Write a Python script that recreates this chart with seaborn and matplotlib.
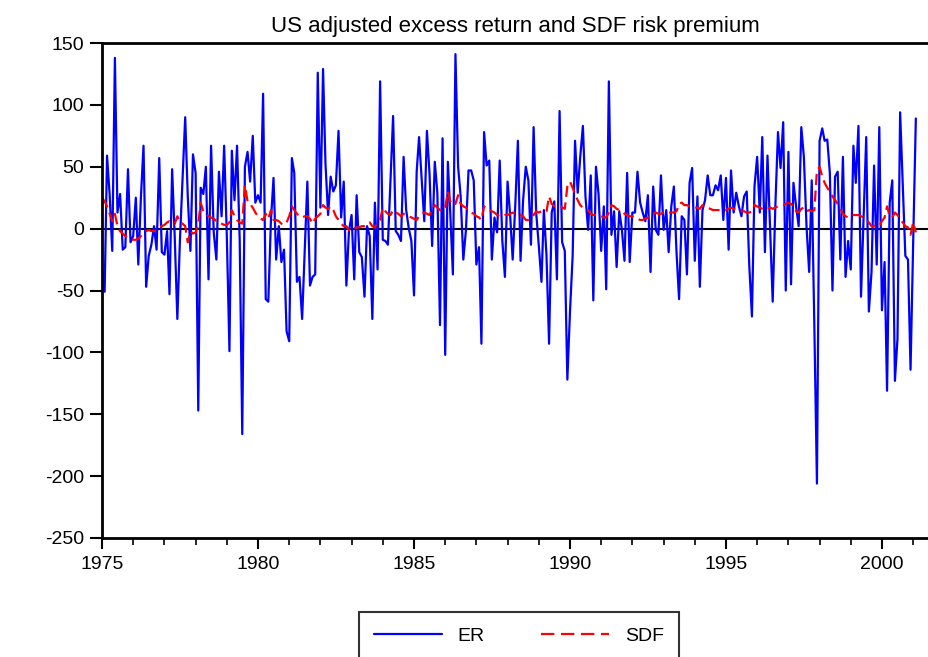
import pandas as pd
import matplotlib
matplotlib.use("Agg")
import matplotlib.pyplot as plt
import matplotlib.dates as mdates
from matplotlib.lines import Line2D
import seaborn as sns

# monthly values, 1975:01 onwards
er = [
    -33, -51, 59, 27, -18, 138, 13, 28, -17, -15,
    48, -11, -6, 25, -29, 26, 67, -47, -22, -13,
    2, -17, 57, -19, -21, -2, -53, 48, -6, -73,
    -10, 40, 90, 26, -18, 60, 45, -147, 33, 28,
    50, -41, 67, -3, -25, 46, 10, 67, -5, -99,
    63, 23, 67, -9, -166, 50, 62, 38, 75, 21,
    27, 21, 109, -57, -59, 7, 41, -25, 2, -27,
    -17, -83, -91, 57, 45, -43, -39, -73, -18, 38,
    -46, -39, -37, 126, 17, 129, 53, 11, 42, 30,
    35, 79, 9, 38, -46, -2, 11, -41, 27, -19,
    -23, -55, 2, -6, -73, 21, -33, 119, -9, -10,
    -13, 40, 91, -2, -5, -10, 58, 15, 0, -10,
    -54, 46, 74, 40, 6, 79, 45, -14, 54, 29,
    -78, 73, -102, 54, 13, -37, 141, 50, 26, -25,
    -1, 47, 47, 39, -29, -15, -93, 78, 51, 55,
    -25, 9, -3, 55, -10, -39, 38, 10, -25, 20,
    71, -26, 23, 50, 39, -13, 82, 13, -14, -43,
    15, -22, -93, 13, 22, -41, 95, -11, -18, -122,
    -67, -22, 71, 29, 58, 83, 26, -1, 43, -58,
    50, 28, -18, 18, -49, 119, -5, 14, -31, 14,
    -1, -26, 45, -27, 13, 13, 46, 21, 13, 6,
    27, -35, 34, -1, -5, 43, -1, 15, -19, 18,
    34, -19, -57, 10, 7, -37, 37, 49, -26, 26,
    -47, 15, 23, 43, 27, 27, 35, 31, 43, 7,
    41, -17, 47, 13, 29, 18, 10, 26, 30, -30,
    -71, 34, 58, 13, 74, -19, 59, -1, -59, 18,
    78, 49, 86, -50, 62, -45, 37, 18, 2, 82,
    58, 2, -35, 39, -80, -206, 71, 81, 71, 72,
    45, -50, 42, 46, -25, 58, -39, -10, -33, 67,
    37, 83, -55, 10, 74, -67, -35, 51, -29, 82,
    -66, -27, -131, 21, 39, -123, -89, 94, 34, -22,
    -25, -114, -10, 89,
]

sdf = [
    25, 22, 18, 12, 6, 12, 2, -2, -4, -6,
    -7, -8, -9, -9, -8, -6, -4, -2, -1, -2,
    -2, -1, 1, 2, 3, 5, 6, 5, 4, 10,
    5, 4, 2, -11, -2, -4, -3, 3, 21, 14,
    12, 10, 9, 8, 6, 5, 4, 3, 3, 5,
    15, 10, 7, 5, 4, 35, 22, 20, 17, 13,
    10, 8, 7, 12, 8, 15, 7, 7, 6, 4,
    3, 5, 10, 18, 15, 12, 10, 9, 10, 10,
    8, 4, 8, 10, 12, 19, 17, 16, 18, 15,
    10, 7, 4, 2, 2, -1, -2, 0, 1, 1,
    2, 2, 3, 5, 2, 1, 5, 7, 17, 14,
    12, 11, 15, 13, 12, 10, 12, 11, 10, 9,
    8, 7, 10, 12, 13, 12, 11, 15, 19, 17,
    15, 14, 17, 30, 22, 19, 20, 27, 20, 18,
    17, 14, 13, 12, 10, 9, 7, 18, 16, 15,
    14, 13, 11, 10, 10, 11, 11, 12, 13, 12,
    11, 11, 10, 7, 7, 9, 11, 14, 13, 14,
    13, 14, 26, 20, 18, 18, 18, 17, 16, 34,
    38, 33, 28, 23, 19, 17, 16, 15, 12, 11,
    11, 11, 10, 9, 9, 13, 19, 18, 16, 15,
    14, 12, 11, 10, 10, 9, 8, 7, 7, 8,
    9, 10, 12, 13, 12, 12, 13, 13, 13, 13,
    13, 14, 20, 21, 19, 19, 18, 18, 17, 17,
    16, 19, 18, 17, 16, 15, 15, 15, 15, 15,
    15, 16, 17, 16, 15, 15, 14, 14, 13, 13,
    14, 19, 18, 17, 16, 15, 16, 17, 16, 17,
    18, 19, 19, 20, 21, 20, 18, 14, 13, 16,
    17, 14, 15, 14, 15, 47, 50, 42, 37, 33,
    30, 26, 23, 20, 16, 12, 10, 9, 10, 11,
    11, 11, 10, 9, 7, 5, 2, 2, 3, 2,
    6, 9, 18, 10, 9, 13, 11, 8, 5, 2,
    1, -5, 5, -3,
]

y_ticks = [150, 100, 50, 0, -50, -100, -150, -200, -250]

dates = pd.date_range("1975-01-01", periods=len(er), freq="MS")
df = pd.DataFrame({"date": dates, "ER": er, "SDF": sdf})

sns.set_theme(style="white")
plt.rcParams["font.family"] = ["Liberation Sans", "DejaVu Sans"]
plt.rcParams["axes.unicode_minus"] = False
plt.rcParams["text.color"] = "black"
plt.rcParams["xtick.color"] = "black"
plt.rcParams["ytick.color"] = "black"

fig = plt.figure(figsize=(9.29, 6.57), dpi=100)
ax = fig.add_axes([102 / 929, 119 / 657, 1 - 102 / 929, (538 - 43) / 657])

dash = (0, (5, 2.5))
sns.lineplot(data=df, x="date", y="ER", ax=ax, color="#0000ff", lw=1.6)
sns.lineplot(data=df, x="date", y="SDF", ax=ax, color="#ff0000", lw=1.6,
             linestyle=dash)
ax.axhline(0, color="black", lw=1.5, zorder=1)

ax.set_xlim(pd.Timestamp("1975-01-01"), pd.Timestamp("2001-07-05"))
ax.set_ylim(-250, 150)
ax.set_yticks(y_ticks)
ax.set_xlabel("")
ax.set_ylabel("")

ax.xaxis.set_major_locator(mdates.YearLocator(5))
ax.xaxis.set_minor_locator(mdates.YearLocator(1))
ax.xaxis.set_major_formatter(mdates.DateFormatter("%Y"))

for side in ["left", "top", "bottom"]:
    ax.spines[side].set_color("black")
    ax.spines[side].set_linewidth(2)
ax.spines["right"].set_visible(False)

ax.tick_params(axis="x", which="major", direction="out", length=8, width=1.5,
               color="black", labelsize=14, pad=5, bottom=True)
ax.tick_params(axis="x", which="minor", direction="out", length=5, width=1.2,
               color="black", bottom=True)
ax.tick_params(axis="y", direction="out", length=9, width=1.5, color="black",
               labelsize=14, pad=4, left=True)

ax.set_title("US adjusted excess return and SDF risk premium", fontsize=16,
             pad=8, color="black")

handles = [
    Line2D([], [], color="#0000ff", lw=1.6),
    Line2D([], [], color="#ff0000", lw=1.6, linestyle=(0, (6, 3))),
]
leg = fig.legend(handles, ["ER", "SDF"], loc="upper center",
                 bbox_to_anchor=(519 / 929, 1 - 612 / 657), ncol=2,
                 fontsize=14, frameon=True, fancybox=False, handlelength=3.5,
                 columnspacing=2.9, handletextpad=0.8, borderpad=0.8,
                 borderaxespad=0)
leg.get_frame().set_edgecolor("black")
leg.get_frame().set_linewidth(1.5)

fig.savefig("out.png", dpi=100)
